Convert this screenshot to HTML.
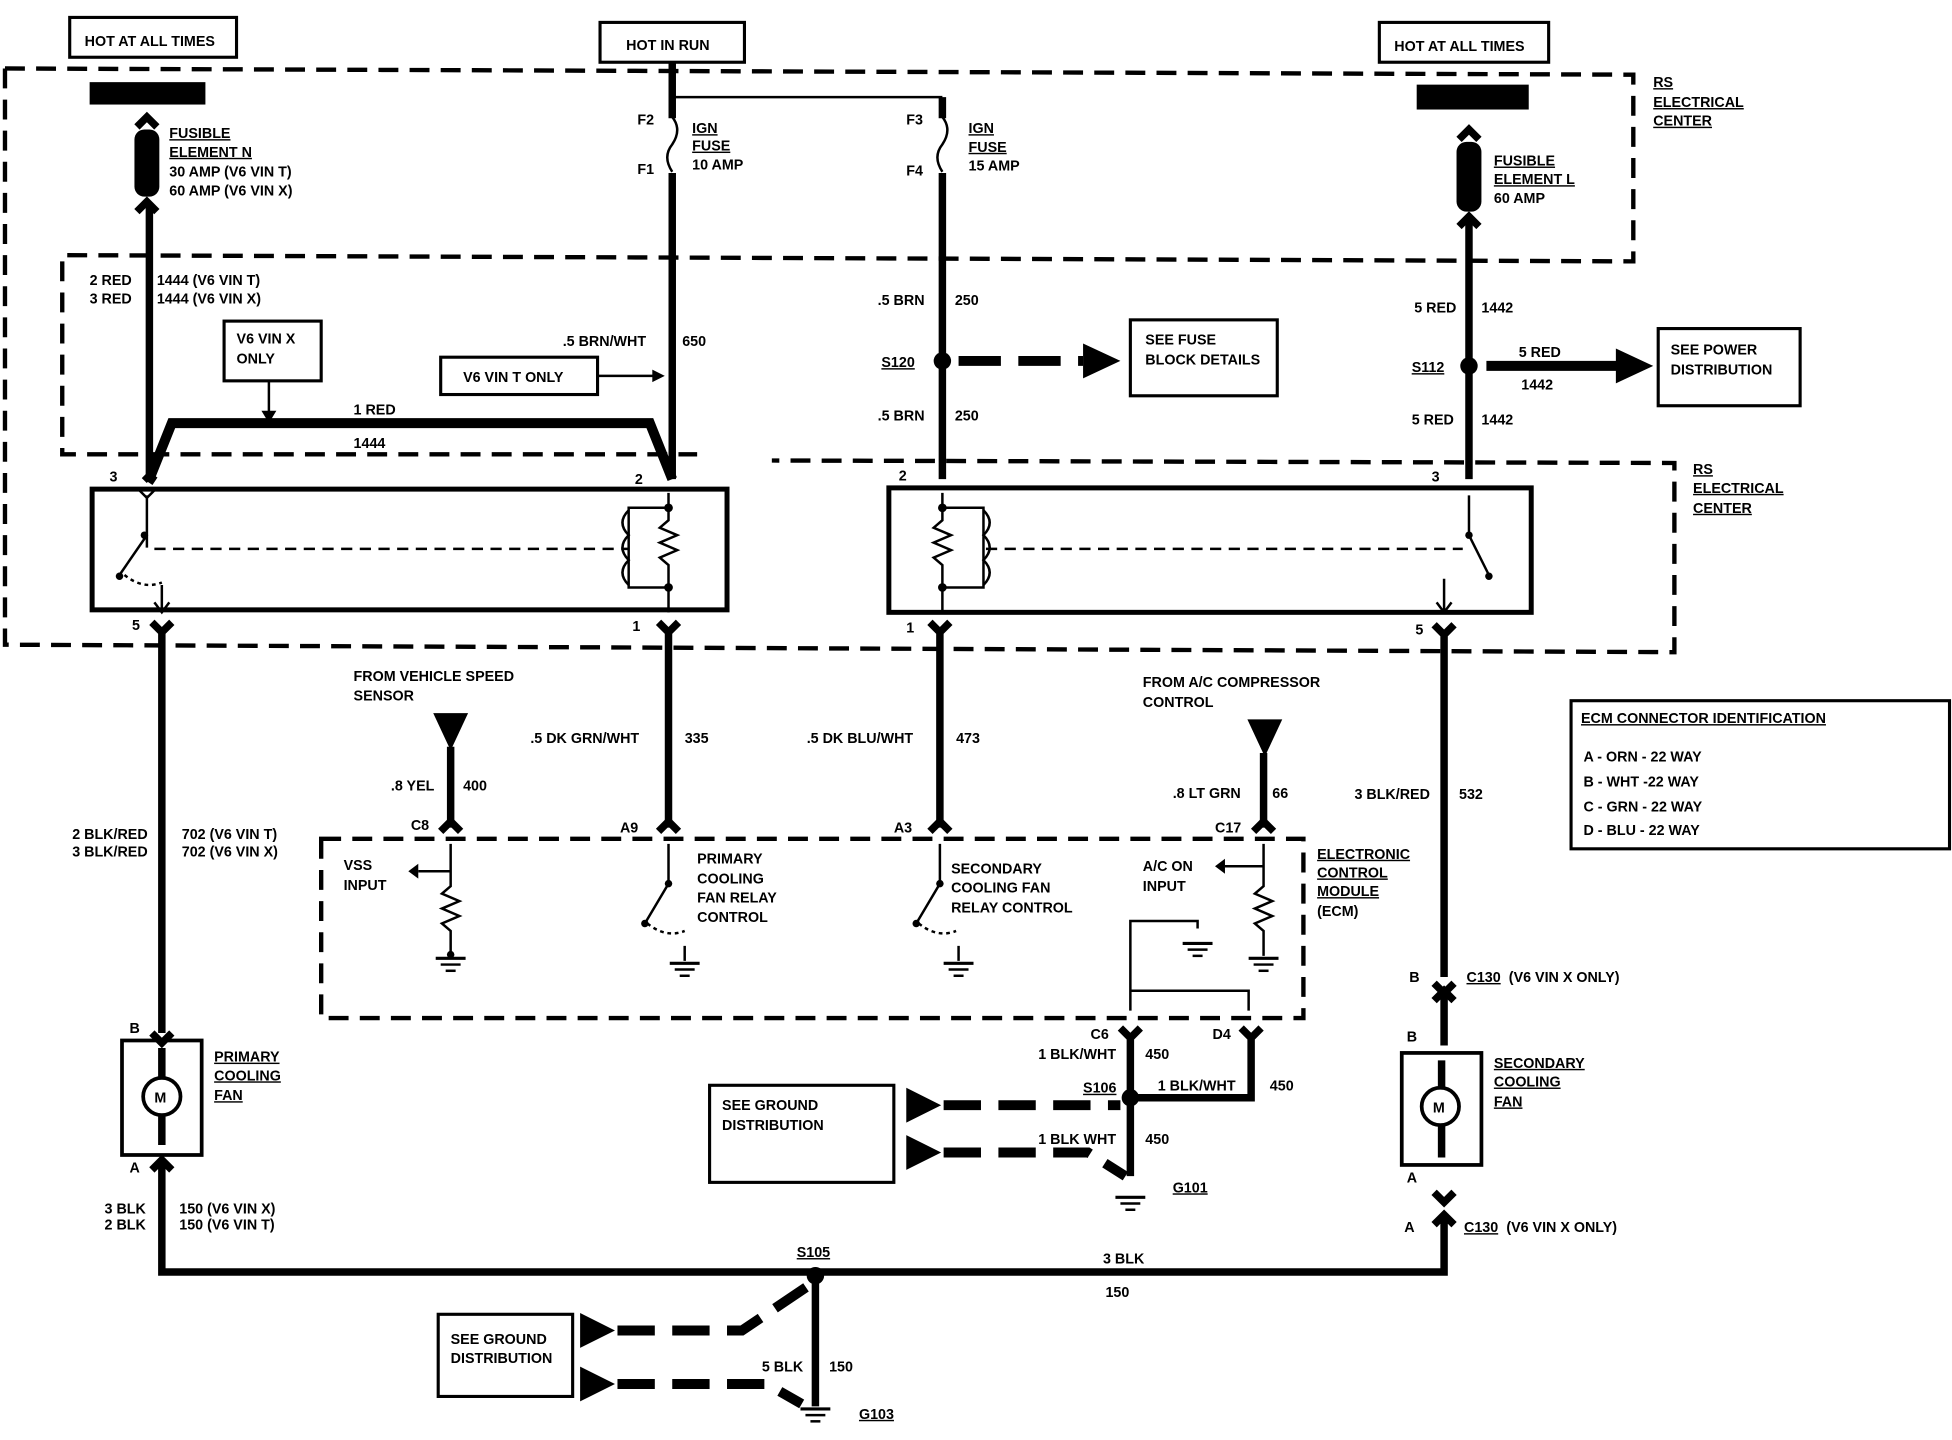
<!DOCTYPE html>
<html><head><meta charset="utf-8"><style>
html,body{margin:0;padding:0;background:#fff;width:1952px;height:1440px;overflow:hidden}
svg{display:block}
text{font-family:"Liberation Sans",sans-serif;font-weight:bold;font-size:11.5px;fill:#000}
.d{fill:none;stroke:#000;stroke-width:3.5;stroke-dasharray:16,9}
.w{fill:none;stroke:#000;stroke-width:6}
.t{fill:none;stroke:#000;stroke-width:2}
.b{fill:none;stroke:#000;stroke-width:2.5}
</style></head><body>
<svg width="1952" height="1440" viewBox="0 0 1568 1157" preserveAspectRatio="none">
<!-- top labels -->
<rect x="56" y="14" width="134" height="32" class="b"/><text x="68" y="37">HOT AT ALL TIMES</text>
<rect x="482" y="18" width="116" height="32" class="b"/><text x="503" y="40">HOT IN RUN</text>
<rect x="1108" y="18" width="136" height="32" class="b"/><text x="1120" y="41">HOT AT ALL TIMES</text>
<!-- dashed boxes -->
<path class="d" d="M4,55 L1312,60 L1312,210 L50,205 L50,365 L560,365"/>
<path class="d" d="M4,55 L4,518 L1345,524 L1345,372 L620,370"/>
<path class="d" d="M258,674 L1047,674 L1047,818 L258,818 Z"/>
<text x="1328" y="70" text-decoration="underline">RS</text><text x="1328" y="86" text-decoration="underline">ELECTRICAL</text><text x="1328" y="101" text-decoration="underline">CENTER</text>
<text x="1360" y="381" text-decoration="underline">RS</text><text x="1360" y="396" text-decoration="underline">ELECTRICAL</text><text x="1360" y="412" text-decoration="underline">CENTER</text>
<!-- left fusible -->
<rect x="72" y="66" width="93" height="18"/>
<path class="w" d="M110,102 L118,94 L126,102"/>
<rect x="108" y="104" width="20" height="54" rx="8"/>
<path class="w" d="M110,170 L118,162 L126,170"/>
<line x1="120" y1="166" x2="120" y2="385" class="w"/>
<text x="136" y="111" text-decoration="underline">FUSIBLE</text><text x="136" y="126" text-decoration="underline">ELEMENT N</text>
<text x="136" y="142">30 AMP (V6 VIN T)</text><text x="136" y="157">60 AMP (V6 VIN X)</text>
<text x="72" y="229">2 RED</text><text x="126" y="229">1444 (V6 VIN T)</text>
<text x="72" y="244">3 RED</text><text x="126" y="244">1444 (V6 VIN X)</text>
<rect x="180" y="258" width="78" height="48" class="b"/><text x="190" y="276">V6 VIN X</text><text x="190" y="292">ONLY</text>
<line x1="216" y1="306" x2="216" y2="336" class="t"/><path d="M210,330 L216,340 L222,330Z"/>
<path d="M120,385 L138,340 L522,340 L540,385" fill="none" stroke="#000" stroke-width="8"/>
<text x="284" y="333">1 RED</text><text x="284" y="360">1444</text>
<!-- F2/F3 -->
<line x1="540" y1="50" x2="540" y2="385" class="w"/>
<path d="M540,78 L757,78" class="t"/>
<line x1="757" y1="78" x2="757" y2="385" class="w"/>
<rect x="532" y="95" width="16" height="44" fill="#fff"/><path d="M540,94 q8,10 0,22 q-8,10 0,22" class="t"/>
<rect x="749" y="95" width="16" height="44" fill="#fff"/><path d="M757,94 q8,10 0,22 q-8,10 0,22" class="t"/>
<text x="512" y="100">F2</text><text x="512" y="140">F1</text><text x="556" y="107" text-decoration="underline">IGN</text><text x="556" y="121" text-decoration="underline">FUSE</text><text x="556" y="136">10 AMP</text>
<text x="728" y="100">F3</text><text x="728" y="141">F4</text><text x="778" y="107" text-decoration="underline">IGN</text><text x="778" y="122" text-decoration="underline">FUSE</text><text x="778" y="137">15 AMP</text>
<text x="452" y="278">.5 BRN/WHT</text><text x="548" y="278">650</text>
<rect x="354" y="287" width="126" height="30" class="b"/><text x="372" y="307">V6 VIN T ONLY</text>
<line x1="480" y1="302" x2="528" y2="302" class="t"/><path d="M524,297 L534,302 L524,307Z"/>
<text x="705" y="245">.5 BRN</text><text x="767" y="245">250</text>
<circle cx="757" cy="290" r="7"/><text x="708" y="295" text-decoration="underline">S120</text>
<line x1="770" y1="290" x2="870" y2="290" stroke="#000" stroke-width="8" stroke-dasharray="34,14"/>
<path d="M870,276 L900,290 L870,304Z"/>
<rect x="908" y="257" width="118" height="61" class="b"/><text x="920" y="277">SEE FUSE</text><text x="920" y="293">BLOCK DETAILS</text>
<text x="705" y="338">.5 BRN</text><text x="767" y="338">250</text>
<!-- right fusible -->
<rect x="1138" y="68" width="90" height="20"/>
<path class="w" d="M1172,112 L1180,104 L1188,112"/>
<rect x="1170" y="114" width="20" height="56" rx="8"/>
<path class="w" d="M1172,182 L1180,174 L1188,182"/>
<line x1="1180" y1="178" x2="1180" y2="385" class="w"/>
<text x="1200" y="133" text-decoration="underline">FUSIBLE</text><text x="1200" y="148" text-decoration="underline">ELEMENT L</text><text x="1200" y="163">60 AMP</text>
<text x="1136" y="251">5 RED</text><text x="1190" y="251">1442</text>
<circle cx="1180" cy="294" r="7"/><text x="1134" y="299" text-decoration="underline">S112</text>
<line x1="1194" y1="294" x2="1300" y2="294" stroke="#000" stroke-width="8"/>
<path d="M1298,280 L1328,294 L1298,308Z"/>
<text x="1220" y="287">5 RED</text><text x="1222" y="313">1442</text>
<rect x="1332" y="264" width="114" height="62" class="b"/><text x="1342" y="285">SEE POWER</text><text x="1342" y="301">DISTRIBUTION</text>
<text x="1134" y="341">5 RED</text><text x="1190" y="341">1442</text>
<!-- relay boxes -->
<rect x="74" y="393" width="510" height="97" fill="none" stroke="#000" stroke-width="4"/>
<rect x="714" y="392" width="516" height="100" fill="none" stroke="#000" stroke-width="4"/>
<text x="88" y="387">3</text><text x="510" y="389">2</text><text x="722" y="386">2</text><text x="1150" y="387">3</text>
<text x="106" y="506">5</text><text x="508" y="507">1</text><text x="728" y="508">1</text><text x="1137" y="510">5</text>
<!-- relay 1 internals -->
<path class="t" d="M118,398 L118,430 L96,462 M118,440 L118,430"/><circle cx="116" cy="430" r="3"/><circle cx="96" cy="463" r="3"/>
<path class="t" d="M130,470 L130,492 M124,484 L130,492 L136,484 M112,394 L118,400 L124,394"/>
<path d="M100,462 q15,12 30,6" class="t" stroke-dasharray="3,3"/>
<line x1="124" y1="441" x2="505" y2="441" class="t" stroke-dasharray="9,6"/>
<path class="t" d="M537,396 L537,408 L505,408 L505,472 L537,472 L537,492 M537,408 L537,418 l-7,6 l14,6 l-14,6 l14,6 l-14,6 l7,6 L537,472"/>
<path class="t" d="M505,410 q-10,10 0,20 q-10,10 0,20 q-10,10 0,20"/>
<circle cx="537" cy="408" r="3.5"/><circle cx="537" cy="472" r="3.5"/>
<path class="w" d="M124,382 L120,388 M116,382 L120,386" />
<!-- relay 2 internals -->
<path class="t" d="M757,396 L757,408 L790,408 L790,472 L757,472 L757,492 M757,408 L757,418 l-7,6 l14,6 l-14,6 l14,6 l-14,6 l7,6 L757,472"/>
<path class="t" d="M790,410 q10,10 0,20 q10,10 0,20 q10,10 0,20"/>
<circle cx="757" cy="408" r="3.5"/><circle cx="757" cy="472" r="3.5"/>
<line x1="792" y1="441" x2="1175" y2="441" class="t" stroke-dasharray="9,6"/>
<path class="t" d="M1180,398 L1180,430 L1196,462"/><circle cx="1180" cy="430" r="3"/><circle cx="1196" cy="463" r="3"/>
<path class="t" d="M1160,465 L1160,492 M1154,484 L1160,492 L1166,484"/>
<!-- wires down -->
<path class="w" d="M122,500 L130,508 L138,500 M130,508 L130,830"/>
<path class="w" d="M529,500 L537,508 L545,500 M537,508 L537,665"/>
<path class="w" d="M747,500 L755,508 L763,500 M755,508 L755,665"/>
<path class="w" d="M1152,502 L1160,510 L1168,502 M1160,510 L1160,785"/>
<text x="426" y="597">.5 DK GRN/WHT</text><text x="550" y="597">335</text>
<text x="648" y="597">.5 DK BLU/WHT</text><text x="768" y="597">473</text>
<text x="1088" y="642">3 BLK/RED</text><text x="1172" y="642">532</text>
<text x="58" y="674">2 BLK/RED</text><text x="146" y="674">702 (V6 VIN T)</text>
<text x="58" y="688">3 BLK/RED</text><text x="146" y="688">702 (V6 VIN X)</text>
<!-- VSS -->
<text x="284" y="547">FROM VEHICLE SPEED</text><text x="284" y="563">SENSOR</text>
<path d="M348,573 L376,573 L362,603Z"/><line x1="362" y1="600" x2="362" y2="665" class="w"/>
<text x="314" y="635">.8 YEL</text><text x="372" y="635">400</text><text x="330" y="667">C8</text>
<text x="918" y="552">FROM A/C COMPRESSOR</text><text x="918" y="568">CONTROL</text>
<path d="M1002,578 L1030,578 L1016,608Z"/><line x1="1015" y1="605" x2="1015" y2="665" class="w"/>
<text x="942" y="641">.8 LT GRN</text><text x="1022" y="641">66</text><text x="976" y="669">C17</text>
<text x="498" y="669">A9</text><text x="718" y="669">A3</text>
<path class="w" d="M354,668 L362,660 L370,668 M529,668 L537,660 L545,668 M747,668 L755,660 L763,668 M1007,668 L1015,660 L1023,668"/>
<!-- ECM internals -->
<path class="t" d="M362,678 L362,712 l-7,6 l14,6 l-14,6 l14,6 l-14,6 l7,6 L362,768 M362,700 L336,700"/><path d="M336,694 L328,700 L336,706Z"/>
<line x1="350" y1="770" x2="374" y2="770" class="b"/><line x1="354" y1="775" x2="370" y2="775" class="t"/><line x1="358" y1="780" x2="366" y2="780" class="t"/><circle cx="362" cy="767" r="3"/>
<path class="t" d="M537,678 L537,710 L518,742 M550,760 L550,772"/><circle cx="537" cy="710" r="3"/><circle cx="518" cy="742" r="3"/>
<path d="M520,742 q15,12 30,6" class="t" stroke-dasharray="3,3"/>
<line x1="538" y1="774" x2="562" y2="774" class="b"/><line x1="542" y1="779" x2="558" y2="779" class="t"/><line x1="546" y1="784" x2="554" y2="784" class="t"/>
<path class="t" d="M755,678 L755,710 L736,742 M770,760 L770,772"/><circle cx="755" cy="710" r="3"/><circle cx="736" cy="742" r="3"/>
<path d="M738,742 q15,12 30,6" class="t" stroke-dasharray="3,3"/>
<line x1="758" y1="774" x2="782" y2="774" class="b"/><line x1="762" y1="779" x2="778" y2="779" class="t"/><line x1="766" y1="784" x2="774" y2="784" class="t"/>
<path class="t" d="M1015,678 L1015,712 l-7,6 l14,6 l-14,6 l14,6 l-14,6 l7,6 L1015,768 M1015,696 L984,696"/><path d="M984,690 L976,696 L984,702Z"/>
<line x1="1003" y1="770" x2="1027" y2="770" class="b"/><line x1="1007" y1="775" x2="1023" y2="775" class="t"/><line x1="1011" y1="780" x2="1019" y2="780" class="t"/>
<path class="t" d="M962,746 L962,740 L908,740 L908,812 M908,796 L1003,796 L1003,812"/>
<line x1="950" y1="758" x2="974" y2="758" class="b"/><line x1="954" y1="763" x2="970" y2="763" class="t"/><line x1="958" y1="768" x2="966" y2="768" class="t"/>
<text x="276" y="699">VSS</text><text x="276" y="715">INPUT</text>
<text x="560" y="694">PRIMARY</text><text x="560" y="710">COOLING</text><text x="560" y="725">FAN RELAY</text><text x="560" y="741">CONTROL</text>
<text x="764" y="702">SECONDARY</text><text x="764" y="717">COOLING FAN</text><text x="764" y="733">RELAY CONTROL</text>
<text x="918" y="700">A/C ON</text><text x="918" y="716">INPUT</text>
<text x="1058" y="690" text-decoration="underline">ELECTRONIC</text><text x="1058" y="705" text-decoration="underline">CONTROL</text><text x="1058" y="720" text-decoration="underline">MODULE</text><text x="1058" y="736">(ECM)</text>
<!-- ECM connector ident -->
<rect x="1262" y="563" width="304" height="119" class="b"/>
<text x="1270" y="581" font-size="14" text-decoration="underline">ECM CONNECTOR IDENTIFICATION</text>
<text x="1272" y="612">A - ORN - 22 WAY</text><text x="1272" y="632">B - WHT -22 WAY</text><text x="1272" y="652">C - GRN - 22 WAY</text><text x="1272" y="671">D - BLU - 22 WAY</text>
<!-- C6/D4 -->
<path class="w" d="M900,826 L908,834 L916,826 M908,834 L908,945 M997,826 L1005,834 L1013,826 M1005,834 L1005,882 L908,882"/>
<text x="876" y="835">C6</text><text x="974" y="835">D4</text>
<text x="834" y="851">1 BLK/WHT</text><text x="920" y="851">450</text>
<circle cx="908" cy="882" r="7"/><text x="870" y="878" text-decoration="underline">S106</text>
<text x="930" y="876">1 BLK/WHT</text><text x="1020" y="876">450</text>
<text x="834" y="919">1 BLK WHT</text><text x="920" y="919">450</text>
<line x1="896" y1="962" x2="920" y2="962" class="b"/><line x1="900" y1="967" x2="916" y2="967" class="t"/><line x1="904" y1="972" x2="912" y2="972" class="t"/>
<text x="942" y="958" text-decoration="underline">G101</text>
<rect x="570" y="872" width="148" height="78" class="b"/><text x="580" y="892">SEE GROUND</text><text x="580" y="908">DISTRIBUTION</text>
<path d="M728,874 L756,888 L728,902Z M728,912 L756,926 L728,940Z"/>
<line x1="758" y1="888" x2="900" y2="888" stroke="#000" stroke-width="8" stroke-dasharray="30,14"/>
<path d="M758,926 L874,926 L904,945" fill="none" stroke="#000" stroke-width="8" stroke-dasharray="30,14"/>
<!-- primary fan -->
<rect x="98" y="836" width="64" height="92" fill="none" stroke="#000" stroke-width="3"/>
<circle cx="130" cy="881" r="15" fill="#fff" stroke="#000" stroke-width="3"/><text x="124" y="886">M</text>
<path class="w" d="M130,842 L130,866 M130,896 L130,920"/>
<path class="w" d="M122,830 L130,838 L138,830 M122,940 L130,932 L138,940 M130,936 L130,1022 L1160,1022 L1160,975 M1152,984 L1160,976 L1168,984"/>
<text x="104" y="830">B</text><text x="104" y="942">A</text>
<text x="172" y="853" text-decoration="underline">PRIMARY</text><text x="172" y="868" text-decoration="underline">COOLING</text><text x="172" y="884" text-decoration="underline">FAN</text>
<text x="84" y="975">3 BLK</text><text x="144" y="975">150 (V6 VIN X)</text>
<text x="84" y="988">2 BLK</text><text x="144" y="988">150 (V6 VIN T)</text>
<!-- secondary fan -->
<path class="w" d="M1152,790 L1160,798 L1168,790 M1152,804 L1160,796 L1168,804 M1160,800 L1160,840 M1152,958 L1160,966 L1168,958"/>
<text x="1132" y="789">B</text><text x="1178" y="789" text-decoration="underline">C130</text><text x="1212" y="789">(V6 VIN X ONLY)</text>
<text x="1130" y="837">B</text>
<rect x="1126" y="846" width="64" height="90" fill="none" stroke="#000" stroke-width="3"/>
<circle cx="1157" cy="889" r="15" fill="#fff" stroke="#000" stroke-width="3"/><text x="1151" y="894">M</text>
<path class="w" d="M1158,852 L1158,874 M1158,904 L1158,930"/>
<text x="1130" y="950">A</text>
<text x="1200" y="858" text-decoration="underline">SECONDARY</text><text x="1200" y="873" text-decoration="underline">COOLING</text><text x="1200" y="889" text-decoration="underline">FAN</text>
<text x="1128" y="990">A</text><text x="1176" y="990" text-decoration="underline">C130</text><text x="1210" y="990">(V6 VIN X ONLY)</text>
<text x="886" y="1015">3 BLK</text><text x="888" y="1042">150</text>
<!-- S105 -->
<circle cx="655" cy="1025" r="7"/><text x="640" y="1010" text-decoration="underline">S105</text>
<line x1="655" y1="1025" x2="655" y2="1130" class="w"/>
<text x="612" y="1102">5 BLK</text><text x="666" y="1102">150</text>
<line x1="643" y1="1132" x2="667" y2="1132" class="b"/><line x1="647" y1="1137" x2="663" y2="1137" class="t"/><line x1="651" y1="1142" x2="659" y2="1142" class="t"/>
<text x="690" y="1140" text-decoration="underline">G103</text>
<rect x="352" y="1056" width="108" height="66" class="b"/><text x="362" y="1080">SEE GROUND</text><text x="362" y="1095">DISTRIBUTION</text>
<path d="M466,1055 L494,1069 L466,1083Z M466,1098 L494,1112 L466,1126Z"/>
<path d="M496,1069 L596,1069 L648,1034" fill="none" stroke="#000" stroke-width="8" stroke-dasharray="30,14"/>
<path d="M496,1112 L616,1112 L644,1128" fill="none" stroke="#000" stroke-width="8" stroke-dasharray="30,14"/>
</svg>
</body></html>
